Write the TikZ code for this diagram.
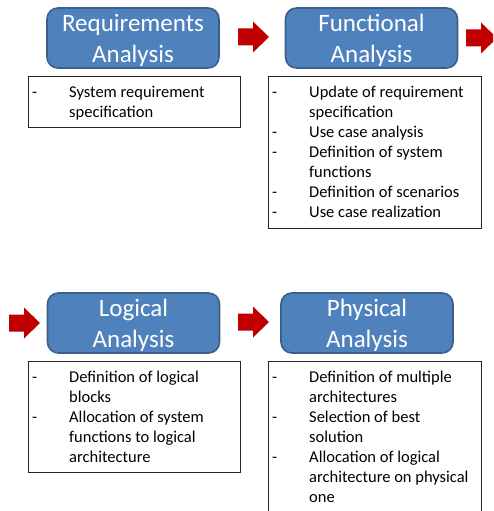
\documentclass[tikz,border=0pt]{standalone}
\usepackage{fontspec}
\setmainfont{Carlito}
\usepackage{array}
\definecolor{phasefill}{HTML}{4F81BD}
\definecolor{phaseline}{HTML}{3A5F8B}
\definecolor{arrowred}{HTML}{C00000}
\tikzset{
  phase/.style={draw=phaseline, line width=1.6pt, fill=phasefill, rounded corners=11pt,
    minimum width=172pt, minimum height=60pt, inner sep=0pt},
  phasetext/.style={text=white, align=center, font=\fontsize{25}{31}\selectfont, inner sep=0pt},
  listbox/.style={draw=black!85, line width=0.8pt, fill=white, anchor=north west, inner sep=0pt},
  listtext/.style={anchor=north west, inner sep=0pt, font=\fontsize{16.5}{20}\selectfont},
  pics/blockarrow/.style={code={
    \fill[arrowred] (0,-8.5) -- (15,-8.5) -- (15,-15.5) -- (31,0) -- (15,15.5) -- (15,8.5) -- (0,8.5) -- cycle;
  }}
}
\newcommand{\itemtab}[1]{\begin{tabular}{@{}p{37pt}@{}l@{}}#1\end{tabular}}
\begin{document}
\begin{tikzpicture}[x=1pt,y=-1pt]
\useasboundingbox (0,0) rectangle (493,511);
\clip (0,0) rectangle (493,511);
\fill[white] (0,0) rectangle (493,511);
% phase boxes
\node[phase] (req) at (133,38) {};
\node[phasetext] (reqN) at ([yshift=-2pt]req.center) {Requirements\\Analysis};
\node[phase] (fun) at (371.5,38) {};
\node[phasetext] (funN) at ([yshift=-2pt]fun.center) {Functional\\Analysis};
\node[phase] (log) at (133.5,323) {};
\node[phasetext] (logN) at ([yshift=-2pt]log.center) {Logical\\Analysis};
\node[phase] (phy) at (367,323) {};
\node[phasetext] (phyN) at ([yshift=-2pt]phy.center) {Physical\\Analysis};
% list boxes
\node[listbox, minimum width=212pt, minimum height=51pt] (reqL) at (28,76) {};
\node[listtext] (reqT) at ([xshift=4pt,yshift=-7pt]reqL.north west) {\itemtab{- & System requirement\\ & specification}};
\node[listbox, minimum width=213pt, minimum height=152pt] (funL) at (268,76) {};
\node[listtext] (funT) at ([xshift=4pt,yshift=-7pt]funL.north west) {\itemtab{- & Update of requirement\\ & specification\\ - & Use case analysis\\ - & Definition of system\\ & functions\\ - & Definition of scenarios\\ - & Use case realization}};
\node[listbox, minimum width=212pt, minimum height=111pt] (logL) at (28,361) {};
\node[listtext] (logT) at ([xshift=4pt,yshift=-7pt]logL.north west) {\itemtab{- & Definition of logical\\ & blocks\\ - & Allocation of system\\ & functions to logical\\ & architecture}};
\node[listbox, minimum width=213pt, minimum height=170pt] (phyL) at (268,361) {};
\node[listtext] (phyT) at ([xshift=4pt,yshift=-7pt]phyL.north west) {\itemtab{- & Definition of multiple\\ & architectures\\ - & Selection of best\\ & solution\\ - & Allocation of logical\\ & architecture on physical\\ & one}};
% block arrows
\coordinate (a1) at (238,37);
\coordinate (a2) at (466,38);
\coordinate (a3) at (9,323);
\coordinate (a4) at (238,322);
\pic at (a1) {blockarrow};
\pic at (a2) {blockarrow};
\pic at (a3) {blockarrow};
\pic at (a4) {blockarrow};
\end{tikzpicture}
\end{document}
